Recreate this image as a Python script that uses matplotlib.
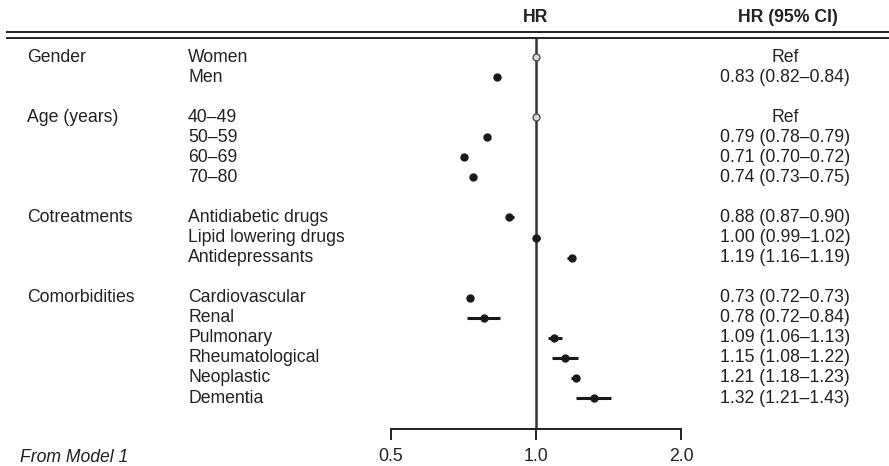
import numpy as np
import matplotlib
matplotlib.use("Agg")
import matplotlib.pyplot as plt
import matplotlib.transforms as mtransforms
from matplotlib.lines import Line2D

plt.rcParams["font.family"] = ["Liberation Sans", "DejaVu Sans"]
plt.rcParams["font.size"] = 12.7

# groups and their items
groups = ["Gender", "Age (years)", "Cotreatments", "Comorbidities"]
items = [
    ["Women", "Men"],
    ["40\u201349", "50\u201359", "60\u201369", "70\u201380"],
    ["Antidiabetic drugs", "Lipid lowering drugs", "Antidepressants"],
    ["Cardiovascular", "Renal", "Pulmonary", "Rheumatological", "Neoplastic", "Dementia"],
]

# hazard ratios with 95% CI (NaN = reference category)
hr = [[np.nan, 0.83], [np.nan, 0.79, 0.71, 0.74], [0.88, 1.00, 1.19],
      [0.73, 0.78, 1.09, 1.15, 1.21, 1.32]]
lo = [[np.nan, 0.82], [np.nan, 0.78, 0.70, 0.73], [0.87, 0.99, 1.16],
      [0.72, 0.72, 1.06, 1.08, 1.18, 1.21]]
hi = [[np.nan, 0.84], [np.nan, 0.79, 0.72, 0.75], [0.90, 1.02, 1.19],
      [0.73, 0.84, 1.13, 1.22, 1.23, 1.43]]

xticks = [0.5, 1.0, 2.0]
xticklabels = ["0.5", "1.0", "2.0"]

W, H = 889, 466
fig = plt.figure(figsize=(W / 100, H / 100), dpi=100)

# row layout: one blank row between groups
row0_px, row_px = 57.0, 20.06
y_bottom_px, y_top_px = 429.0, 38.0
ymax = (y_bottom_px - row0_px) / row_px
ymin = (y_top_px - row0_px) / row_px

ax = fig.add_axes([391 / W, (H - y_bottom_px) / H, 290 / W, (y_bottom_px - y_top_px) / H])
ax.set_xscale("log")
ax.set_xlim(0.5, 2.0)
ax.set_ylim(ymax, ymin)

col_grp = mtransforms.blended_transform_factory(fig.transFigure, ax.transData)

txt = "#222222"
row = 0
for g, name in enumerate(groups):
    ax.text(27 / W, row, name, transform=col_grp, ha="left", va="center", color=txt)
    for k, lab in enumerate(items[g]):
        ax.text(188 / W, row, lab, transform=col_grp, ha="left", va="center", color=txt)
        if np.isnan(hr[g][k]):
            ax.plot(1.0, row, "o", ms=5.0, mfc="#d9d9d9", mec="#444444", mew=0.9, zorder=4)
            right = "Ref"
        else:
            ax.plot([lo[g][k], hi[g][k]], [row, row], color="#1a1a1a", lw=2.2,
                    solid_capstyle="butt", zorder=3)
            ax.plot(hr[g][k], row, "o", ms=5.0, color="#1a1a1a", zorder=4)
            right = f"{hr[g][k]:.2f} ({lo[g][k]:.2f}\u2013{hi[g][k]:.2f})"
        ax.text(785 / W, row, right, transform=col_grp, ha="center", va="center", color=txt)
        row += 1
    row += 1

# reference line at HR = 1
ax.axvline(1.0, color="#333333", lw=1.8, zorder=2)

for side in ["top", "right", "left"]:
    ax.spines[side].set_visible(False)
ax.spines["bottom"].set_linewidth(1.4)
ax.spines["bottom"].set_color("#222222")
ax.set_yticks([])
ax.set_xticks(xticks)
ax.set_xticklabels(xticklabels)
ax.xaxis.set_minor_locator(matplotlib.ticker.NullLocator())
ax.tick_params(axis="x", direction="out", length=8, width=1.4, color="#222222",
               pad=6, labelcolor=txt, labelsize=12.7)

# headers
head = mtransforms.blended_transform_factory(ax.transData, fig.transFigure)
ax.text(1.0, 1 - 17 / H, "HR", transform=head, ha="center", va="center",
        fontweight="bold", color=txt)
fig.text(788 / W, 1 - 17 / H, "HR (95% CI)", ha="center", va="center",
         fontweight="bold", color=txt)

# double rule under the header
for ypx in (32, 38):
    fig.add_artist(Line2D([7 / W, 1.0], [1 - ypx / H, 1 - ypx / H],
                          transform=fig.transFigure, color="#222222", lw=1.4))

fig.text(20 / W, 1 - 457 / H, "From Model 1", ha="left", va="center",
         style="italic", color=txt)

fig.savefig("out.png", dpi=100)
